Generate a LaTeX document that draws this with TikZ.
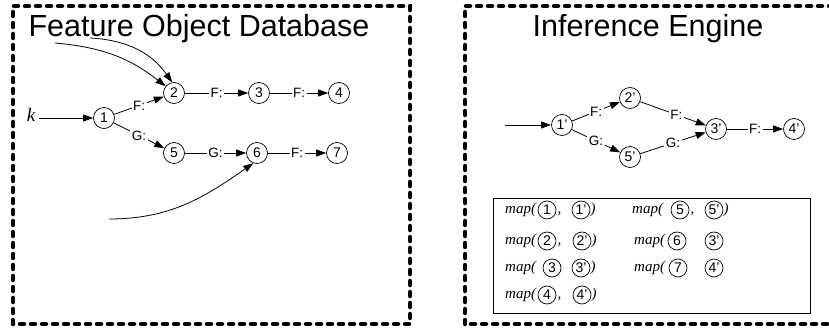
\documentclass[tikz,border=0pt]{standalone}
\usepackage{fontspec}
\setmainfont{Liberation Sans}
\newfontfamily\mapfont{Liberation Serif}
\usetikzlibrary{arrows.meta,positioning,calc}

\begin{document}
\begin{tikzpicture}[
    x=1pt, y=1pt,
    state/.style={draw, circle, minimum size=21pt, inner sep=0pt, line width=0.7pt, font=\fontsize{14}{14}\selectfont},
    pair/.style={draw, circle, minimum size=18pt, inner sep=0pt, line width=0.7pt, font=\fontsize{14}{14}\selectfont},
    edge/.style={-{Triangle[length=10pt,width=7pt]}, line width=0.8pt},
    lbl/.style={fill=white, inner sep=1.5pt, font=\fontsize{13.5}{13.5}\selectfont},
    region/.style={line width=4.5pt, dash pattern=on 4pt off 7pt, line cap=round},
    title/.style={anchor=base, inner sep=0pt, font=\fontsize{30.5}{30}\selectfont},
    maptxt/.style={inner sep=0pt, text height=10.5pt, text depth=3.5pt, font=\mapfont\itshape\fontsize{15}{15}\selectfont}
]
\useasboundingbox (0,0) rectangle (829,327);
\clip (0,0) rectangle (829,327);

% Dashed regions
\draw[region] (13,3) rectangle (410,321);
\draw[region] (465,3) rectangle (845,321);
\node[title] (dbtitle) at (199,290) {Feature Object Database};
\node[title] (ietitle) at (648,290) {Inference Engine};

% Feature object graph
\node[maptxt, font=\mapfont\itshape\fontsize{19}{19}\selectfont, inner sep=4pt] (k) at (31,209) {k};
\node[state] (n1) at (104,209) {1};
\node[state] (n2) at (174,234) {2};
\node[state] (n3) at (259,234) {3};
\node[state] (n4) at (339,234) {4};
\node[state] (n5) at (174,174) {5};
\node[state] (n6) at (257,174) {6};
\node[state] (n7) at (337,174) {7};

\coordinate (c1) at (55,284);
\coordinate (c2) at (90,289);
\coordinate (c3) at (109,108);

\draw[edge] (k) -- (n1);
\draw[edge] (n1) -- node[lbl] {F:} (n2);
\draw[edge] (n1) -- node[lbl] {G:} (n5);
\draw[edge] (n2) -- node[lbl] {F:} (n3);
\draw[edge] (n3) -- node[lbl] {F:} (n4);
\draw[edge] (n5) -- node[lbl] {G:} (n6);
\draw[edge] (n6) -- node[lbl] {F:} (n7);
\draw[edge] (c1) to[out=-5, in=142] (n2.141);
\draw[edge] (c2) to[out=-3, in=125] (n2.100);
\draw[edge] (c3) to[out=0, in=-145] (n6.250);

% Inference graph
\coordinate (in) at (505,202);
\node[state] (p1) at (562,202) {1'};
\node[state] (p2) at (630,229) {2'};
\node[state] (p5) at (630,170) {5'};
\node[state] (p3) at (716,198) {3'};
\node[state] (p4) at (794,198) {4'};

\draw[edge] (in) -- (p1);
\draw[edge] (p1) -- node[lbl] {F:} (p2);
\draw[edge] (p1) -- node[lbl] {G:} (p5);
\draw[edge] (p2) -- node[lbl, pos=0.55] {F:} (p3);
\draw[edge] (p5) -- node[lbl] {G:} (p3);
\draw[edge] (p3) -- node[lbl] {F:} (p4);

% Mapping table
\draw[line width=1pt] (493,14) rectangle (810,129);
\foreach \mx/\ax/\bx/\y/\a/\b/\sep/\cl [count=\i] in {
    505/547/581/117/1/1/{,}/{)},
    505/547/582/86/2/2/{,}/{)},
    505/552/581/59/3/3/{}/{)},
    505/547/582/32/4/4/{,}/{)},
    632/680/714/117/5/5/{,}/{)},
    634/677/714/86/6/3/{}/{},
    634/678/714/59/7/4/{}/{}}{
  \node[maptxt, anchor=west] (map\i) at (\mx,\y) {map(};
  \node[pair] (ma\i) at (\ax,\y) {\a};
  \node[pair] (mb\i) at (\bx,\y) {\b'};
  \node[maptxt, anchor=west] (ms\i) at ([xshift=1pt]ma\i.east) {\sep};
  \node[maptxt, anchor=west] (mc\i) at (mb\i.east) {\cl};
}
\end{tikzpicture}
\end{document}
